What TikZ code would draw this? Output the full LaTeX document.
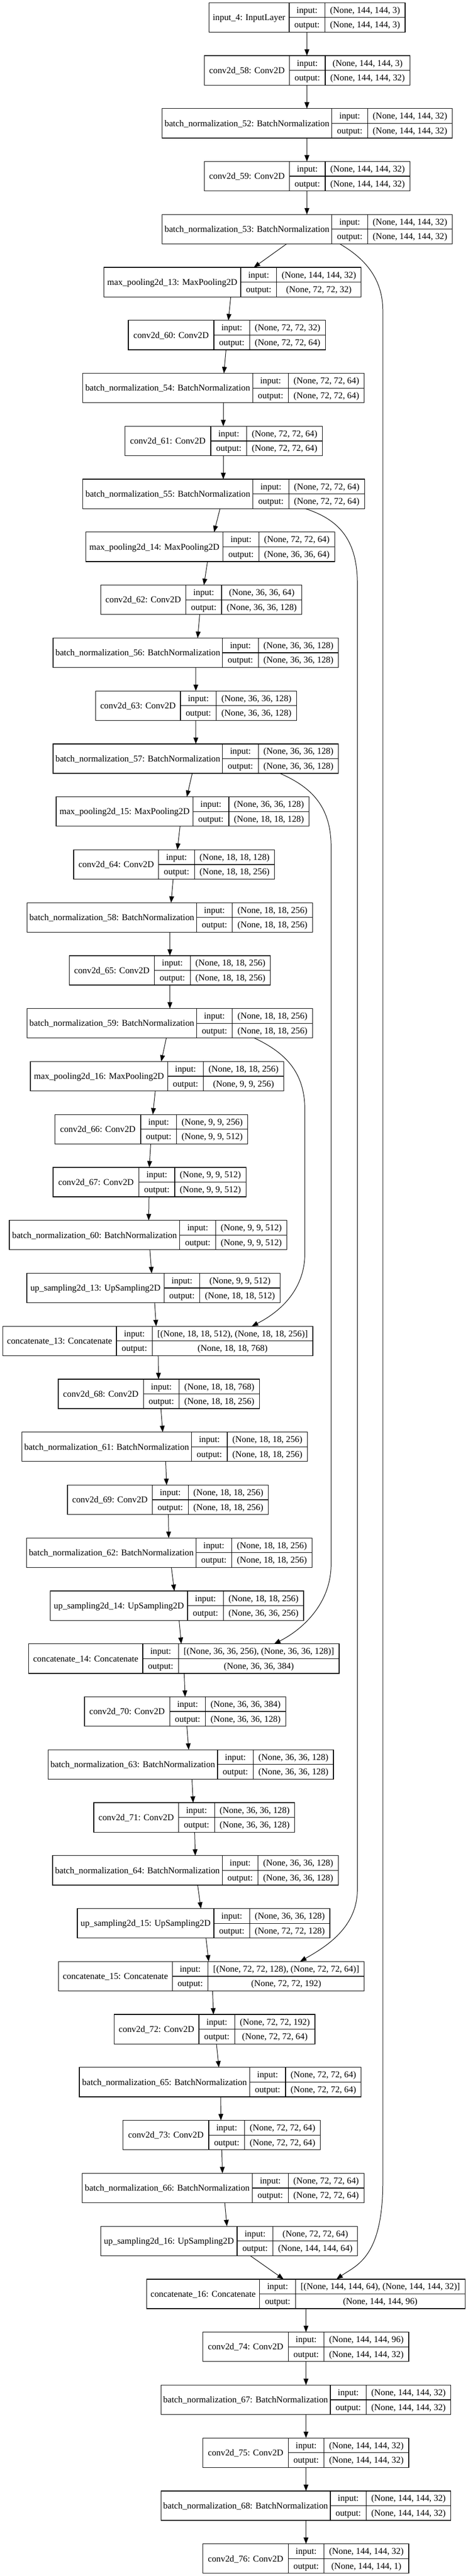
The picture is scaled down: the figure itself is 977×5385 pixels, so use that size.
\documentclass[tikz,border=0pt]{standalone}
\usepackage{fontspec}
\setmainfont{Liberation Serif}
\usetikzlibrary{arrows.meta}
\newdimen\wA
\newdimen\wB
\newcommand\lf{\fontsize{14pt}{16pt}\selectfont}
\tikzset{
  box/.style={draw, line width=1pt, rectangle, inner sep=0pt, outer sep=0pt, minimum height=46.125pt, anchor=north west},
  sepline/.style={line width=1pt},
  txt/.style={anchor=base, inner sep=0pt, font=\lf},
  arr/.style={line width=0.8pt, -{Triangle[length=10pt,width=7.5pt]}},
}
\newcommand\lyr[7]{%
  \pgfmathsetmacro\Ty{5.67+#2*110.67}%
  \pgfmathsetmacro\My{\Ty+30.75}%
  \pgfmathsetmacro\By{\Ty+61.5}%
  \pgfinterruptpicture\setbox0\hbox{\normalfont\lf #6}\global\wA=\wd0 \setbox0\hbox{\normalfont\lf #7}\global\wB=\wd0 \endpgfinterruptpicture
  \pgfmathsetmacro\SW{max(\the\wA,\the\wB)/0.75+21.33}%
  \pgfmathsetmacro\XB{#4-\SW}%
  \pgfmathsetmacro\XA{\XB-74.9}%
  \pgfmathsetmacro\BW{(#4-#3)*0.75}%
  \expandafter\xdef\csname LX#1\endcsname{#3}%
  \node[box, minimum width=\BW pt] (#1) at (#3,\Ty) {};
  \draw[sepline] (\XA,\Ty) -- (\XA,\By) (\XB,\Ty) -- (\XB,\By) (\XA,\My) -- (#4,\My);
  \pgfmathsetmacro\Cn{(#3+\XA)/2}\pgfmathsetmacro\Cl{(\XA+\XB)/2}\pgfmathsetmacro\Cs{(\XB+#4)/2}%
  \pgfmathsetmacro\Ya{\Ty+21.575}\pgfmathsetmacro\Yb{\My+21.575}\pgfmathsetmacro\Yn{\My+6.2}%
  \node[txt] at (\Cn,\Yn) {#5};
  \node[txt] at (\Cl,\Ya) {input:};
  \node[txt] at (\Cl,\Yb) {output:};
  \node[txt] at (\Cs,\Ya) {#6};
  \node[txt] at (\Cs,\Yb) {#7};
}
\newcommand\edg[4]{%
  \pgfmathsetmacro\Sa{(#2-\csname LX#1\endcsname)*0.75}%
  \pgfmathsetmacro\Ta{(#4-\csname LX#3\endcsname)*0.75}%
  \draw[arr] ([xshift=\Sa pt]#1.south west) -- ([xshift=\Ta pt]#3.north west);
}
\begin{document}
\begin{tikzpicture}[x=0.75pt,y=-0.75pt]
\useasboundingbox (0,0) rectangle (977,5385);
\fill[white] (0,0) rectangle (977,5385);
\lyr{l0}{0}{436.7}{846.5}{input\_4: InputLayer}{(None, 144, 144, 3)}{(None, 144, 144, 3)}
\lyr{l1}{1}{427.3}{856.5}{conv2d\_58: Conv2D}{(None, 144, 144, 3)}{(None, 144, 144, 32)}
\lyr{l2}{2}{338.7}{945.1}{batch\_normalization\_52: BatchNormalization}{(None, 144, 144, 32)}{(None, 144, 144, 32)}
\lyr{l3}{3}{427.3}{856.5}{conv2d\_59: Conv2D}{(None, 144, 144, 32)}{(None, 144, 144, 32)}
\lyr{l4}{4}{338.7}{945.1}{batch\_normalization\_53: BatchNormalization}{(None, 144, 144, 32)}{(None, 144, 144, 32)}
\lyr{l5}{5}{217.1}{754.8}{max\_pooling2d\_13: MaxPooling2D}{(None, 144, 144, 32)}{(None, 72, 72, 32)}
\lyr{l6}{6}{268.2}{680.0}{conv2d\_60: Conv2D}{(None, 72, 72, 32)}{(None, 72, 72, 64)}
\lyr{l7}{7}{172.8}{761.1}{batch\_normalization\_54: BatchNormalization}{(None, 72, 72, 64)}{(None, 72, 72, 64)}
\lyr{l8}{8}{260.8}{673.7}{conv2d\_61: Conv2D}{(None, 72, 72, 64)}{(None, 72, 72, 64)}
\lyr{l9}{9}{172.8}{761.7}{batch\_normalization\_55: BatchNormalization}{(None, 72, 72, 64)}{(None, 72, 72, 64)}
\lyr{l10}{10}{179.0}{699.3}{max\_pooling2d\_14: MaxPooling2D}{(None, 72, 72, 64)}{(None, 36, 36, 64)}
\lyr{l11}{11}{210.2}{630.7}{conv2d\_62: Conv2D}{(None, 36, 36, 64)}{(None, 36, 36, 128)}
\lyr{l12}{12}{111.0}{707.4}{batch\_normalization\_56: BatchNormalization}{(None, 36, 36, 128)}{(None, 36, 36, 128)}
\lyr{l13}{13}{199.6}{619.5}{conv2d\_63: Conv2D}{(None, 36, 36, 128)}{(None, 36, 36, 128)}
\lyr{l14}{14}{111.0}{707.4}{batch\_normalization\_57: BatchNormalization}{(None, 36, 36, 128)}{(None, 36, 36, 128)}
\lyr{l15}{15}{117.3}{645.7}{max\_pooling2d\_15: MaxPooling2D}{(None, 36, 36, 128)}{(None, 18, 18, 128)}
\lyr{l16}{16}{154.1}{573.9}{conv2d\_64: Conv2D}{(None, 18, 18, 128)}{(None, 18, 18, 256)}
\lyr{l17}{17}{56.8}{653.1}{batch\_normalization\_58: BatchNormalization}{(None, 18, 18, 256)}{(None, 18, 18, 256)}
\lyr{l18}{18}{144.7}{565.2}{conv2d\_65: Conv2D}{(None, 18, 18, 256)}{(None, 18, 18, 256)}
\lyr{l19}{19}{56.8}{653.1}{batch\_normalization\_59: BatchNormalization}{(None, 18, 18, 256)}{(None, 18, 18, 256)}
\lyr{l20}{20}{63.6}{592.6}{max\_pooling2d\_16: MaxPooling2D}{(None, 18, 18, 256)}{(None, 9, 9, 256)}
\lyr{l21}{21}{114.8}{517.8}{conv2d\_66: Conv2D}{(None, 9, 9, 256)}{(None, 9, 9, 512)}
\lyr{l22}{22}{111.0}{514.0}{conv2d\_67: Conv2D}{(None, 9, 9, 512)}{(None, 9, 9, 512)}
\lyr{l23}{23}{19.3}{599.5}{batch\_normalization\_60: BatchNormalization}{(None, 9, 9, 512)}{(None, 9, 9, 512)}
\lyr{l24}{24}{56.1}{585.2}{up\_sampling2d\_13: UpSampling2D}{(None, 9, 9, 512)}{(None, 18, 18, 512)}
\lyr{l25}{25}{5.6}{653.8}{concatenate\_13: Concatenate}{[(None, 18, 18, 512), (None, 18, 18, 256)]}{(None, 18, 18, 768)}
\lyr{l26}{26}{121.6}{542.1}{conv2d\_68: Conv2D}{(None, 18, 18, 768)}{(None, 18, 18, 256)}
\lyr{l27}{27}{45.5}{642.5}{batch\_normalization\_61: BatchNormalization}{(None, 18, 18, 256)}{(None, 18, 18, 256)}
\lyr{l28}{28}{141.0}{560.8}{conv2d\_69: Conv2D}{(None, 18, 18, 256)}{(None, 18, 18, 256)}
\lyr{l29}{29}{55.5}{651.9}{batch\_normalization\_62: BatchNormalization}{(None, 18, 18, 256)}{(None, 18, 18, 256)}
\lyr{l30}{30}{104.8}{634.4}{up\_sampling2d\_14: UpSampling2D}{(None, 18, 18, 256)}{(None, 36, 36, 256)}
\lyr{l31}{31}{59.9}{708.7}{concatenate\_14: Concatenate}{[(None, 36, 36, 256), (None, 36, 36, 128)]}{(None, 36, 36, 384)}
\lyr{l32}{32}{176.5}{597.0}{conv2d\_70: Conv2D}{(None, 36, 36, 384)}{(None, 36, 36, 128)}
\lyr{l33}{33}{100.4}{696.8}{batch\_normalization\_63: BatchNormalization}{(None, 36, 36, 128)}{(None, 36, 36, 128)}
\lyr{l34}{34}{195.9}{615.7}{conv2d\_71: Conv2D}{(None, 36, 36, 128)}{(None, 36, 36, 128)}
\lyr{l35}{35}{109.8}{706.8}{batch\_normalization\_64: BatchNormalization}{(None, 36, 36, 128)}{(None, 36, 36, 128)}
\lyr{l36}{36}{161.6}{689.3}{up\_sampling2d\_15: UpSampling2D}{(None, 36, 36, 128)}{(None, 72, 72, 128)}
\lyr{l37}{37}{122.3}{761.1}{concatenate\_15: Concatenate}{[(None, 72, 72, 128), (None, 72, 72, 64)]}{(None, 72, 72, 192)}
\lyr{l38}{38}{238.3}{658.1}{conv2d\_72: Conv2D}{(None, 72, 72, 192)}{(None, 72, 72, 64)}
\lyr{l39}{39}{165.9}{754.8}{batch\_normalization\_65: BatchNormalization}{(None, 72, 72, 64)}{(None, 72, 72, 64)}
\lyr{l40}{40}{257.0}{669.4}{conv2d\_73: Conv2D}{(None, 72, 72, 64)}{(None, 72, 72, 64)}
\lyr{l41}{41}{171.6}{760.5}{batch\_normalization\_66: BatchNormalization}{(None, 72, 72, 64)}{(None, 72, 72, 64)}
\lyr{l42}{42}{210.2}{747.3}{up\_sampling2d\_16: UpSampling2D}{(None, 72, 72, 64)}{(None, 144, 144, 64)}
\lyr{l43}{43}{306.3}{971.7}{concatenate\_16: Concatenate}{[(None, 144, 144, 64), (None, 144, 144, 32)]}{(None, 144, 144, 96)}
\lyr{l44}{44}{424.2}{854.0}{conv2d\_74: Conv2D}{(None, 144, 144, 96)}{(None, 144, 144, 32)}
\lyr{l45}{45}{336.2}{942.0}{batch\_normalization\_67: BatchNormalization}{(None, 144, 144, 32)}{(None, 144, 144, 32)}
\lyr{l46}{46}{424.2}{854.0}{conv2d\_75: Conv2D}{(None, 144, 144, 32)}{(None, 144, 144, 32)}
\lyr{l47}{47}{336.2}{942.0}{batch\_normalization\_68: BatchNormalization}{(None, 144, 144, 32)}{(None, 144, 144, 32)}
\lyr{l48}{48}{424.2}{854.0}{conv2d\_76: Conv2D}{(None, 144, 144, 32)}{(None, 144, 144, 1)}
% main chain
\edg{l0}{641.3}{l1}{641.3}
\edg{l1}{641.3}{l2}{641.3}
\edg{l2}{641.3}{l3}{641.3}
\edg{l3}{641.3}{l4}{641.3}
\edg{l4}{598.9}{l5}{530.3}
\edg{l5}{482.2}{l6}{477.2}
\edg{l6}{472.2}{l7}{467.9}
\edg{l7}{466.6}{l8}{466.6}
\edg{l8}{466.6}{l9}{466.6}
\edg{l9}{459.8}{l10}{447.3}
\edg{l10}{433.6}{l11}{426.1}
\edg{l11}{417.3}{l12}{413.0}
\edg{l12}{409.2}{l13}{409.2}
\edg{l13}{409.2}{l14}{409.2}
\edg{l14}{401.7}{l15}{390.5}
\edg{l15}{376.2}{l16}{370.6}
\edg{l16}{361.8}{l17}{357.5}
\edg{l17}{355.0}{l18}{355.0}
\edg{l18}{355.0}{l19}{355.0}
\edg{l19}{347.5}{l20}{336.9}
\edg{l20}{324.4}{l21}{319.4}
\edg{l21}{315.0}{l22}{311.9}
\edg{l22}{311.3}{l23}{310.7}
\edg{l23}{313.2}{l24}{316.9}
\edg{l24}{323.1}{l25}{326.3}
\edg{l25}{330.6}{l26}{331.3}
\edg{l26}{336.2}{l27}{340.0}
\edg{l27}{346.2}{l28}{348.1}
\edg{l28}{351.8}{l29}{352.5}
\edg{l29}{358.1}{l30}{364.3}
\edg{l30}{374.3}{l31}{378.7}
\edg{l31}{384.9}{l32}{386.8}
\edg{l32}{390.5}{l33}{394.3}
\edg{l33}{401.1}{l34}{403.6}
\edg{l34}{406.7}{l35}{408.0}
\edg{l35}{413.0}{l36}{419.8}
\edg{l36}{430.4}{l37}{436.1}
\edg{l37}{444.2}{l38}{446.0}
\edg{l38}{452.3}{l39}{457.3}
\edg{l39}{461.0}{l40}{461.6}
\edg{l40}{463.5}{l41}{464.8}
\edg{l41}{469.7}{l42}{474.1}
\edg{l42}{522.8}{l43}{592.6}
\edg{l43}{639.4}{l44}{639.4}
\edg{l44}{639.4}{l45}{639.4}
\edg{l45}{639.4}{l46}{639.4}
\edg{l46}{639.4}{l47}{639.4}
\edg{l47}{639.4}{l48}{639.4}
% skip connections
\draw[arr] ([xshift=278.475pt]l4.south west) .. controls (762,540) and (800,582) .. (800,650)
  -- (800,4560) .. controls (800,4720) and (745,4735) .. ([xshift=297.525pt]l43.north west);
\draw[arr] ([xshift=348.6pt]l9.south west) .. controls (705,1085) and (746.7,1125) .. (746.7,1220)
  -- (746.7,3950) .. controls (746.7,4030) and (680,4070) .. ([xshift=378.525pt]l37.north west);
\draw[arr] ([xshift=355.125pt]l14.south west) .. controls (650,1645) and (691.8,1685) .. (691.8,1770)
  -- (691.8,3270) .. controls (691.8,3350) and (635,3405) .. ([xshift=384.6pt]l31.north west);
\draw[arr] ([xshift=356.025pt]l19.south west) .. controls (595,2200) and (637,2240) .. (637,2320)
  -- (637,2620) .. controls (637,2700) and (580,2745) .. ([xshift=390.3pt]l25.north west);
\end{tikzpicture}
\end{document}
